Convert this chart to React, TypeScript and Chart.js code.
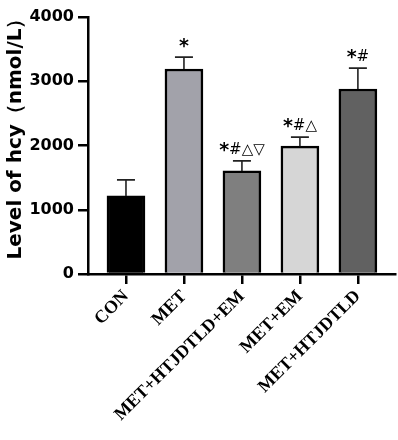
import React, { useEffect, useRef } from "react";
import { Chart, registerables } from "chart.js";

Chart.register(...registerables);

const categories = ["CON", "MET", "MET+HTJDTLD+EM", "MET+EM", "MET+HTJDTLD"];
const positions = [1, 2, 3, 4, 5];
const means = [1215, 3190, 1605, 1990, 2880];
const errors = [250, 185, 155, 140, 325];
const marks = ["", "*", "*#△▽", "*#△", "*#"];
const barColors = ["#000000", "#a2a2aa", "#7f7f7f", "#d6d6d6", "#616161"];
const yTicks = [0, 1000, 2000, 3000, 4000];
const yTitle = "Level of hcy（nmol/L）";

const starFont = 'bold 19px "DejaVu Sans", sans-serif';
const restFont = '15px "DejaVu Sans", sans-serif';

const errorBarPlugin = {
  id: "errorBars",
  afterDatasetsDraw(chart: any) {
    const ctx = chart.ctx;
    const meta = chart.getDatasetMeta(0);
    const y = chart.scales.y;
    ctx.save();
    meta.data.forEach((bar: any, i: number) => {
      const top = y.getPixelForValue(means[i] + errors[i]);
      const base = bar.y;
      ctx.strokeStyle = "#222222";
      ctx.lineWidth = 1.6;
      ctx.beginPath();
      ctx.moveTo(bar.x, base);
      ctx.lineTo(bar.x, top);
      ctx.moveTo(bar.x - 9, top);
      ctx.lineTo(bar.x + 9, top);
      ctx.stroke();
      const m = marks[i];
      if (m) {
        const star = m.slice(0, 1);
        const rest = m.slice(1);
        ctx.fillStyle = "#000";
        ctx.textAlign = "left";
        ctx.textBaseline = "alphabetic";
        ctx.font = starFont;
        const ws = ctx.measureText(star).width;
        ctx.font = restFont;
        const wr = rest ? ctx.measureText(rest).width : 0;
        const x0 = bar.x - (ws + wr) / 2;
        const by = top - 7;
        ctx.font = starFont;
        ctx.fillText(star, x0, by + 2);
        if (rest) {
          ctx.font = restFont;
          ctx.fillText(rest, x0 + ws, by);
        }
      }
    });
    ctx.restore();
  },
};

const titlePlugin = {
  id: "yTitle",
  afterDraw(chart: any) {
    const ctx = chart.ctx;
    ctx.save();
    ctx.translate(16, 134);
    ctx.rotate(-Math.PI / 2);
    ctx.fillStyle = "#000";
    ctx.font = 'bold 20px "DejaVu Sans", sans-serif';
    ctx.textAlign = "center";
    ctx.textBaseline = "middle";
    ctx.fillText(yTitle, 0, 0);
    ctx.restore();
  },
};

function App() {
  const ref = useRef<HTMLCanvasElement | null>(null);
  useEffect(() => {
    if (!ref.current) return;
    const chart = new Chart(ref.current, {
      type: "bar",
      data: {
        datasets: [
          {
            data: positions.map((p, i) => ({ x: p, y: means[i] })),
            backgroundColor: barColors,
            borderColor: "#000",
            borderWidth: 2.5,
            barThickness: 38,
          },
        ],
      },
      options: {
        animation: false,
        responsive: false,
        layout: { padding: { top: 17, right: 3, left: 0, bottom: 0 } },
        plugins: { legend: { display: false }, tooltip: { enabled: false } },
        scales: {
          x: {
            type: "linear",
            offset: false,
            min: 0.345,
            max: 5.64,
            afterBuildTicks: (s: any) => {
              s.ticks = positions.map((v) => ({ value: v }));
            },
            afterFit: (s: any) => {
              s.height = 166;
            },
            ticks: {
              autoSkip: false,
              minRotation: 45,
              maxRotation: 45,
              color: "#000",
              font: { family: '"Liberation Serif", serif', weight: "bold", size: 18 },
              callback: (_v: any, i: number) => categories[i],
              padding: 2,
            },
            grid: {
              offset: false,
              drawOnChartArea: false,
              drawTicks: true,
              tickLength: 10,
              color: "#000",
              lineWidth: 2.5,
            },
            border: { display: true, color: "#000", width: 2.5 },
          },
          y: {
            min: 0,
            max: 4000,
            afterBuildTicks: (s: any) => {
              s.ticks = yTicks.map((v) => ({ value: v }));
            },
            afterFit: (s: any) => {
              s.width = 88;
            },
            ticks: {
              color: "#000",
              font: { family: '"DejaVu Sans", sans-serif', weight: "bold", size: 16 },
              padding: 4,
              callback: (v: any) => String(v),
            },
            grid: {
              drawOnChartArea: false,
              drawTicks: true,
              tickLength: 10,
              color: "#000",
              lineWidth: 2.5,
            },
            border: { display: true, color: "#000", width: 2.5 },
            title: { display: false },
          },
        },
      },
      plugins: [errorBarPlugin, titlePlugin],
    });
    return () => chart.destroy();
  }, []);
  return (
    <div style={{ position: "absolute", left: 0, top: 0, width: 398, height: 440, background: "#fff" }}>
      <canvas ref={ref} width={398} height={440} />
    </div>
  );
}

export default App;
